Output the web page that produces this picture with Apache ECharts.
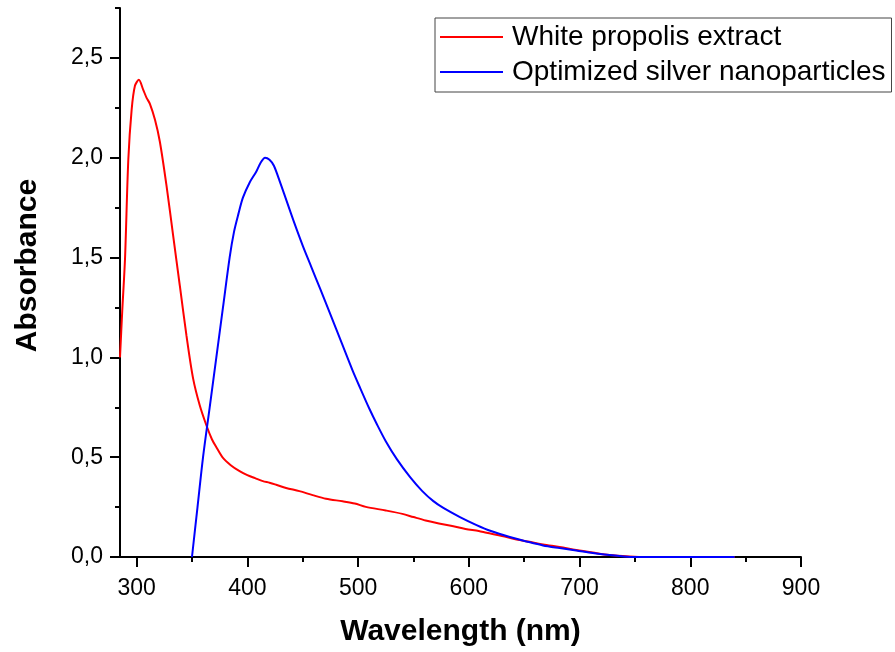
<!DOCTYPE html>
<html>
<head>
<meta charset="utf-8">
<script src="https://cdn.jsdelivr.net/npm/echarts@6/dist/echarts.min.js"></script>
<style>html,body{margin:0;padding:0;background:#fff;}#chart{width:895px;height:652px;}</style>
</head>
<body>
<div id="chart"></div>
<script>
var seriesNames = ['White propolis extract', 'Optimized silver nanoparticles'];
var xMajorTicks = [300, 400, 500, 600, 700, 800, 900];
var xMinorTicks = [350, 450, 550, 650, 750, 850];
var yMajorTicks = [0, 0.5, 1.0, 1.5, 2.0, 2.5];
var yMinorTicks = [0.25, 0.75, 1.25, 1.75, 2.25, 2.75];

var propolis = [
  [285,1.0],[287,1.23],[289.5,1.49],[292.5,1.99],[295.5,2.24],[298.5,2.36],[302,2.39],
  [306,2.34],[309,2.30],[312,2.27],[316.6,2.19],[321,2.08],[327,1.86],[333,1.61],
  [339,1.36],[345,1.11],[351,0.895],[357,0.76],[363,0.66],[368,0.59],[372,0.55],
  [378,0.496],[385,0.46],[393,0.43],[400,0.41],[407,0.395],[414,0.38],[420,0.372],
  [426,0.362],[435,0.346],[447,0.33],[459,0.31],[471,0.292],[486,0.279],[497,0.268],
  [507,0.251],[525,0.233],[540,0.216],[550,0.2],[561,0.183],[573,0.168],[585,0.155],
  [597,0.14],[609,0.13],[616,0.121],[630,0.105],[643,0.088],[655,0.076],[667,0.063],
  [682,0.05],[697,0.035],[712,0.022],[727,0.01],[745,0.003],[760,0],[800,0],[840,0]
];
var nanoparticles = [
  [350,0],[355,0.25],[360,0.5],[366,0.75],[372,1.0],[378,1.25],[384,1.5],[388,1.63],
  [392,1.72],[396,1.80],[402,1.875],[408,1.93],[412,1.975],[416,2.0],[420,1.99],
  [424,1.96],[430,1.87],[436,1.775],[442,1.68],[450,1.56],[458,1.45],[466,1.34],
  [475,1.215],[485,1.075],[495,0.935],[502,0.845],[510,0.745],[517,0.665],[525,0.58],
  [535,0.49],[547,0.40],[558,0.33],[568,0.28],[577,0.246],[592,0.20],[607,0.16],
  [620,0.13],[637,0.10],[652,0.078],[667,0.058],[682,0.045],[697,0.033],[712,0.02],
  [727,0.01],[740,0.003],[750,0],[800,0],[840,0]
];

var FONT = 'Liberation Sans, Arial, Helvetica, sans-serif';
var chart = echarts.init(document.getElementById('chart'));
var axisBlack = {color: '#000', width: 2};

chart.setOption({
  animation: false,
  backgroundColor: '#fff',
  grid: {left: 120, right: 94, top: 8, bottom: 93, containLabel: false},
  legend: {
    orient: 'vertical',
    left: 435, top: 18,
    padding: [4, 6, 5, 5],
    icon: 'rect',
    itemWidth: 63, itemHeight: 2, itemGap: 5,
    borderColor: '#444', borderWidth: 1,
    data: seriesNames,
    textStyle: {fontFamily: FONT, fontSize: 28, color: '#000', lineHeight: 30, padding: [0,0,0,4]}
  },
  xAxis: [{
    type: 'value', min: 285, max: 900,
    name: 'Wavelength (nm)', nameLocation: 'middle', nameGap: 60,
    nameTextStyle: {fontFamily: FONT, fontSize: 30, fontWeight: 'bold', color: '#000'},
    axisLine: {show: true, onZero: false, lineStyle: axisBlack},
    axisTick: {show: true, length: 10, lineStyle: axisBlack, customValues: xMajorTicks},
    axisLabel: {show: true, margin: 20, fontFamily: FONT, fontSize: 23, color: '#000', customValues: xMajorTicks},
    splitLine: {show: false}
  }, {
    type: 'value', min: 285, max: 900, position: 'bottom', gridIndex: 0,
    axisLine: {show: false},
    axisTick: {show: true, length: 5, lineStyle: axisBlack, customValues: xMinorTicks},
    axisLabel: {show: false},
    splitLine: {show: false}
  }],
  yAxis: [{
    type: 'value', min: 0, max: 2.75,
    name: 'Absorbance', nameLocation: 'middle', nameGap: 77, nameRotate: 90,
    nameTextStyle: {fontFamily: FONT, fontSize: 30, fontWeight: 'bold', color: '#000', padding: [0,0,0,34]},
    axisLine: {show: true, onZero: false, lineStyle: axisBlack},
    axisTick: {show: true, length: 10, lineStyle: axisBlack, customValues: yMajorTicks},
    axisLabel: {show: true, margin: 17, fontFamily: FONT, fontSize: 23, color: '#000', customValues: yMajorTicks,
      formatter: function (v) { return v.toFixed(1).replace('.', ','); }},
    splitLine: {show: false}
  }, {
    type: 'value', min: 0, max: 2.75, position: 'left', gridIndex: 0,
    axisLine: {show: false},
    axisTick: {show: true, length: 5, lineStyle: axisBlack, customValues: yMinorTicks},
    axisLabel: {show: false},
    splitLine: {show: false}
  }],
  series: [{
    name: seriesNames[0], type: 'line', xAxisIndex: 0, yAxisIndex: 0,
    data: propolis, symbol: 'none', smooth: 0.3,
    lineStyle: {color: '#ff0000', width: 2}, itemStyle: {color: '#ff0000'}
  }, {
    name: seriesNames[1], type: 'line', xAxisIndex: 0, yAxisIndex: 0,
    data: nanoparticles, symbol: 'none', smooth: 0.3,
    lineStyle: {color: '#0000ff', width: 2}, itemStyle: {color: '#0000ff'}
  }]
});
</script>
</body>
</html>
